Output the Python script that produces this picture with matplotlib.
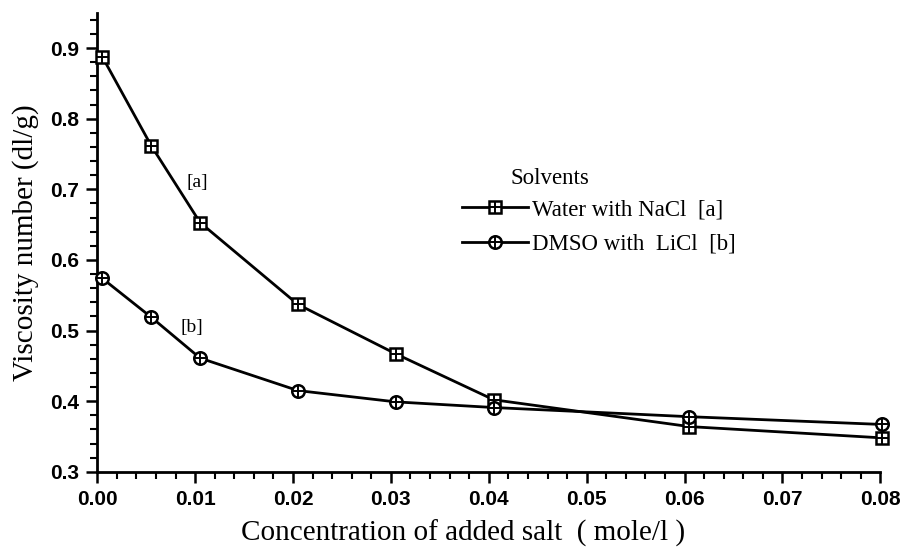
import matplotlib
matplotlib.use("Agg")
import matplotlib.pyplot as plt
from matplotlib.ticker import MultipleLocator, FormatStrFormatter
from matplotlib.lines import Line2D

# Salt concentration (mole/l)
conc = [0.0005, 0.0055, 0.0105, 0.0205, 0.0305, 0.0405, 0.0605, 0.0802]
# Viscosity number (dl/g)
water_nacl = [0.888, 0.762, 0.653, 0.537, 0.467, 0.402, 0.364, 0.348]
dmso_licl = [0.574, 0.519, 0.461, 0.415, 0.399, 0.391, 0.378, 0.367]

series_labels = ["Water with NaCl  [a]", "DMSO with  LiCl  [b]"]
legend_title = "Solvents"
x_label = "Concentration of added salt  ( mole/l )"
y_label = "Viscosity number (dl/g)"

serif = "Liberation Serif"
sans = "Liberation Sans"

fig = plt.figure(figsize=(9.01, 5.57), dpi=100)
ax = fig.add_axes([0.108, 0.153, 0.869, 0.824])

lw = 2.0
ms = 9
ax.plot(conc, water_nacl, color="black", lw=lw, marker="s", ms=ms,
        mfc="white", mec="black", mew=1.8, clip_on=False, zorder=3)
ax.plot(conc, water_nacl, ls="none", marker="+", ms=ms - 1, mec="black",
        mew=1.4, clip_on=False, zorder=4)
ax.plot(conc, dmso_licl, color="black", lw=lw, marker="o", ms=ms,
        mfc="white", mec="black", mew=1.8, clip_on=False, zorder=3)
ax.plot(conc, dmso_licl, ls="none", marker="+", ms=ms - 1, mec="black",
        mew=1.4, clip_on=False, zorder=4)

ax.set_xlim(0, 0.08)
ax.set_ylim(0.3, 0.95)

ax.xaxis.set_major_locator(MultipleLocator(0.01))
ax.xaxis.set_minor_locator(MultipleLocator(0.002))
ax.yaxis.set_major_locator(MultipleLocator(0.1))
ax.yaxis.set_minor_locator(MultipleLocator(0.02))
ax.xaxis.set_major_formatter(FormatStrFormatter("%.2f"))
ax.yaxis.set_major_formatter(FormatStrFormatter("%.1f"))

for side in ("top", "right"):
    ax.spines[side].set_visible(False)
for side in ("left", "bottom"):
    ax.spines[side].set_linewidth(2.0)

ax.tick_params(which="major", direction="out", length=8, width=1.8,
               labelsize=15, pad=5)
ax.tick_params(which="minor", direction="out", length=5, width=1.5)
for lab in ax.get_xticklabels() + ax.get_yticklabels():
    lab.set_fontfamily(sans)
    lab.set_fontweight("bold")

ax.set_xlabel(x_label, fontfamily=serif, fontsize=21)
ax.xaxis.set_label_coords(0.467, -0.105)
ax.set_ylabel(y_label, fontfamily=serif, fontsize=21, labelpad=8)

ax.text(0.0102, 0.709, "[a]", fontfamily=serif, fontsize=14,
        ha="center", va="center")
ax.text(0.0097, 0.505, "[b]", fontfamily=serif, fontsize=14,
        ha="center", va="center")

handles = [
    (Line2D([], [], color="black", lw=lw, marker="s", ms=ms, mfc="white",
            mec="black", mew=1.8),
     Line2D([], [], ls="none", marker="+", ms=ms - 1, mec="black", mew=1.4)),
    (Line2D([], [], color="black", lw=lw, marker="o", ms=ms, mfc="white",
            mec="black", mew=1.8),
     Line2D([], [], ls="none", marker="+", ms=ms - 1, mec="black", mew=1.4)),
]
fig.text(511 / 901, 1 - 178 / 557, legend_title, fontfamily=serif,
         fontsize=16.5, ha="left", va="center")
leg = fig.legend(handles, series_labels, loc="upper left",
                 bbox_to_anchor=(462 / 901, 1 - 199 / 557),
                 bbox_transform=fig.transFigure, frameon=False,
                 prop={"family": serif, "size": 16.5},
                 handlelength=2.9, handletextpad=0.15, labelspacing=0.6,
                 borderpad=0, borderaxespad=0)

fig.savefig("out.png", dpi=100)
